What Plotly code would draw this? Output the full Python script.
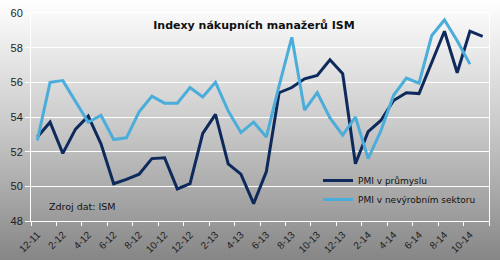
import base64
import plotly.graph_objects as go

months = ["12-11",
          "1-12", "2-12", "3-12", "4-12", "5-12", "6-12", "7-12", "8-12", "9-12", "10-12", "11-12", "12-12",
          "1-13", "2-13", "3-13", "4-13", "5-13", "6-13", "7-13", "8-13", "9-13", "10-13", "11-13", "12-13",
          "1-14", "2-14", "3-14", "4-14", "5-14", "6-14", "7-14", "8-14", "9-14", "10-14", "11-14"]

pmi_manufacturing = [52.85, 53.7, 51.9, 53.3, 54.05, 52.45, 50.15, 50.4, 50.7, 51.6, 51.65, 49.85,
                     50.15, 53.05, 54.15, 51.3, 50.7, 49.0, 50.85, 55.4, 55.7, 56.2, 56.4, 57.3,
                     56.5, 51.3, 53.15, 53.8, 54.95, 55.4, 55.35, 57.15, 58.95, 56.55, 58.95, 58.65]

pmi_services = [52.65, 56.0, 56.1, 54.9, 53.7, 54.1, 52.7, 52.8, 54.3, 55.2, 54.8, 54.8,
                55.7, 55.15, 56.0, 54.35, 53.1, 53.7, 52.85, 55.8, 58.6, 54.4, 55.4, 53.95,
                52.95, 54.0, 51.6, 53.2, 55.25, 56.25, 55.95, 58.7, 59.6, 58.4, 57.05]

series_names = ["PMI v průmyslu", "PMI v nevýrobním sektoru"]
title_text = "Indexy nákupních manažerů ISM"
source_text = "Zdroj dat: ISM"

W, H = 500, 260
ml, mr, mt, mb = 31, 11, 13, 39
pw, ph = W - ml - mr, H - mt - mb

svg = ('<svg xmlns="http://www.w3.org/2000/svg" width="500" height="260" preserveAspectRatio="none">'
       '<defs><linearGradient id="g" x1="0" y1="0" x2="0" y2="1">'
       '<stop offset="0" stop-color="#ffffff"/><stop offset="0.5" stop-color="#c8c8c8"/>'
       '<stop offset="1" stop-color="#868686"/></linearGradient></defs>'
       '<rect width="500" height="260" fill="url(#g)"/></svg>')
bg_src = "data:image/svg+xml;base64," + base64.b64encode(svg.encode()).decode()

fig = go.Figure()
fig.add_trace(go.Scatter(x=months, y=pmi_manufacturing, mode="lines", name=series_names[0],
                         line=dict(color="#0e2a5c", width=3)))
fig.add_trace(go.Scatter(x=months[:len(pmi_services)], y=pmi_services, mode="lines", name=series_names[1],
                         line=dict(color="#4badd9", width=3)))

fig.update_layout(
    width=W, height=H,
    margin=dict(l=ml, r=mr, t=mt, b=mb, pad=0, autoexpand=False),
    paper_bgcolor="#c8c8c8",
    plot_bgcolor="rgba(0,0,0,0)",
    images=[dict(source=bg_src, xref="paper", yref="paper",
                 x=-ml / pw, y=1 + mt / ph, sizex=W / pw, sizey=H / ph,
                 xanchor="left", yanchor="top", sizing="stretch", layer="below")],
    title=dict(text=title_text, x=0.508, xanchor="center", y=1 - 25.5 / H, yanchor="middle",
               font=dict(family="DejaVu Sans", size=11, color="#111111", weight="bold")),
    showlegend=True,
    legend=dict(x=(318 - ml) / pw, xanchor="left", y=(221 - 166) / ph, yanchor="top",
                bgcolor="rgba(0,0,0,0)", borderwidth=0,
                font=dict(family="DejaVu Sans", size=9, color="#111111"),
                tracegroupgap=0, itemwidth=30),
    annotations=[dict(text=source_text, xref="paper", yref="paper",
                      x=(47 - ml) / pw, y=(221 - 206) / ph, xanchor="left", yanchor="middle",
                      showarrow=False, font=dict(family="DejaVu Sans", size=9.5, color="#111111"))],
)

fig.update_xaxes(type="category", categoryorder="array", categoryarray=months,
                 range=[-0.5, len(months) - 0.5], dtick=2, tickson="boundaries",
                 ticks="outside", ticklen=4, tickcolor="white", tickwidth=1, ticklabelstandoff=3,
                 tickangle=-45, tickfont=dict(family="Liberation Sans", size=10, color="#222222"),
                 showgrid=False, showline=True, linecolor="white", linewidth=1, mirror=True,
                 zeroline=False, automargin=False)
fig.update_yaxes(range=[48, 60], dtick=2, tick0=48,
                 ticks="outside", ticklen=5, tickcolor="white", tickwidth=1,
                 tickfont=dict(family="Liberation Sans", size=11, color="#222222"),
                 showgrid=True, gridcolor="white", gridwidth=1,
                 showline=True, linecolor="white", linewidth=1, mirror=True, zeroline=False,
                 automargin=False)

fig.write_html("out.html")
